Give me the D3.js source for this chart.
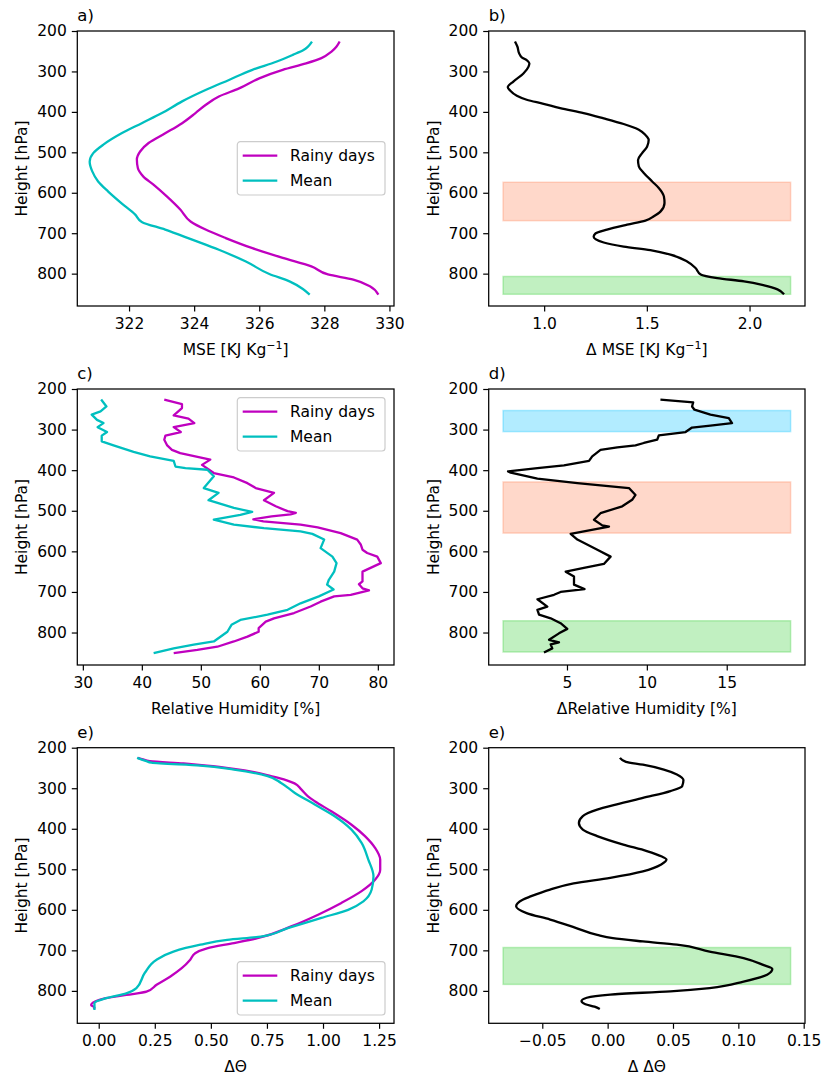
<!DOCTYPE html>
<html><head><meta charset="utf-8">
<script src="https://cdn.jsdelivr.net/npm/d3@7"></script>
<style>body{margin:0;background:#fff}svg{display:block}text{font-family:"DejaVu Sans",sans-serif;fill:#000}</style>
</head><body><svg id="c" width="822" height="1078"></svg>
<script>
// ---------- DATA ----------
const yTicks = [200,300,400,500,600,700,800];

// a) MSE
const mseRainyP = [226,239,251,267,280,296,317,342,362,383,403,428,453,477,498,518,539,560,580,609,642,671,691,712,737,761,782,802,815,831,852];
const mseRainyV = [328.47,328.37,328.22,327.91,327.44,326.72,326.0,325.38,324.76,324.35,324.04,323.63,323.11,322.6,322.34,322.24,322.27,322.44,322.75,323.16,323.58,323.89,324.35,324.97,325.79,326.72,327.6,328.11,328.89,329.4,329.66];
const mseMeanP = [226,239,247,259,276,296,321,346,374,403,428,453,481,502,523,547,572,597,626,654,672,691,716,741,770,801,819,838,852];
const mseMeanV = [327.62,327.49,327.36,327.03,326.52,325.79,325.07,324.35,323.63,323.01,322.39,321.77,321.21,320.9,320.79,320.87,321.05,321.36,321.77,322.19,322.39,323.11,323.94,324.76,325.59,326.31,326.93,327.34,327.55];
const mseTicks = [322,324,326,328,330];

// b) Delta MSE
const dMseP = [226,239,255,265,272,280,288,305,325,339,347,360,370,380,391,403,416,430,444,457,469,486,502,519,535,551,572,588,609,625,646,658,669,679,691,701,709,723,733,742,753,770,786,802,811,819,829,839,851];
const dMseV = [0.858,0.870,0.878,0.891,0.915,0.928,0.924,0.899,0.850,0.823,0.834,0.867,0.915,0.997,1.078,1.192,1.290,1.387,1.461,1.493,1.509,1.501,1.477,1.457,1.461,1.485,1.526,1.558,1.583,1.586,1.567,1.534,1.493,1.404,1.306,1.249,1.241,1.290,1.387,1.517,1.615,1.696,1.737,1.762,1.843,1.973,2.071,2.136,2.168];
const dMseTicks = [1.0,1.5,2.0];
const dMseSpanTop = [574, 807];
const dMseSpanBot = [669, 851];
const dMseSpanCol = ["#ff7f50", "#32cd32"];

// c) Relative humidity
const rhRainyP = [226,237,247,265,273,284,294,306,315,325,339,350,358,374,387,407,418,432,444,456,474,489,501,505,509,514,521,526,534,541,555,571,583,596,604,613,629,650,674,681,691,696,707,711,724,736,752,765,773,789,798,810,822,835,843,851];
const rhRainyV = [43.8,46.8,46.8,45.4,47.9,48.9,45.4,46.6,44.0,43.8,44.3,45.1,46.5,51.6,50.2,52.2,55.6,57.9,59.3,62.4,60.7,62.7,64.7,66.1,65.2,62.0,58.9,60.6,66.9,69.8,73.7,76.5,77.1,77.4,78.2,79.9,80.5,77.4,77.4,76.8,77.4,78.5,75.4,72.6,70.3,68.6,65.8,62.4,61.0,59.8,59.8,57.9,55.6,52.8,49.4,45.4];
const rhMeanP = [226,243,255,263,276,284,294,306,315,329,339,355,366,377,391,395,399,415,444,456,474,493,503,510,522,534,543,551,557,571,592,613,629,650,670,682,694,711,728,744,756,769,781,798,822,830,839,851];
const rhMeanV = [33.1,34.0,33.0,31.5,32.4,33.5,32.5,34.1,33.2,33.2,35.2,38.6,41.4,45.4,45.7,47.4,51.1,52.2,50.5,53.0,51.3,55.6,58.7,56.7,52.2,55.6,60.7,66.9,68.9,70.9,70.3,72.3,73.0,72.6,71.7,71.4,72.5,70.0,66.9,64.7,61.3,56.7,55.2,54.5,52.2,48.8,45.4,42.0];
const rhTicks = [30,40,50,60,70,80];

// d) Delta relative humidity
const dRhP = [226,233,243,251,263,272,284,290,295,306,314,325,333,339,344,350,366,377,388,395,403,406,421,432,444,461,473,489,506,522,536,539,557,571,596,613,631,641,650,662,682,693,700,707,718,736,744,756,765,777,791,802,818,824,829,839,849];
const dRhV = [10.85,12.90,12.83,12.98,13.98,15.13,15.33,13.98,12.83,12.42,10.75,10.65,9.81,9.29,8.15,7.10,6.58,6.38,4.81,3.15,1.31,1.48,3.15,5.65,8.88,9.29,9.08,8.46,7.10,6.69,7.21,7.63,5.23,5.65,6.90,7.73,7.31,6.06,4.92,5.44,5.44,6.10,4.60,4.19,3.15,3.77,3.15,3.25,3.98,4.60,5.02,4.50,3.88,4.50,3.98,4.08,3.56];
const dRhTicks = [5,10,15];
const dRhSpanTop = [253, 429, 771];
const dRhSpanBot = [305, 555, 848];
const dRhSpanCol = ["#00bfff", "#ff7f50", "#32cd32"];

// e) Delta Theta
const thRainyP = [225,229,233,239,244,252,260,270,280,288,303,320,332,357,390,418,447,476,501,526,554,583,612,641,670,682,695,707,723,744,765,785,802,810,822,835,841,845];
const thRainyV = [0.175,0.198,0.228,0.378,0.483,0.603,0.693,0.768,0.835,0.873,0.903,0.933,0.963,1.037,1.127,1.187,1.232,1.255,1.255,1.232,1.172,1.082,0.978,0.858,0.708,0.603,0.483,0.430,0.408,0.370,0.318,0.258,0.213,0.123,0.003,-0.034,-0.019,-0.022];
const thMeanP = [225,233,237,244,254,270,287,311,340,369,402,435,476,517,550,579,600,620,645,666,674,686,703,723,756,793,806,818,830,847];
const thMeanV = [0.171,0.213,0.235,0.453,0.603,0.753,0.813,0.873,0.963,1.052,1.127,1.172,1.202,1.225,1.217,1.180,1.112,0.993,0.843,0.723,0.573,0.453,0.333,0.258,0.205,0.168,0.123,0.033,-0.019,-0.019];
const thTicks = [0,0.25,0.5,0.75,1.0,1.25];

// f) Delta Delta Theta
const dThP = [225,235,242,254,266,280,295,307,324,340,353,369,386,402,418,439,455,468,476,488,505,521,535,550,567,575,591,608,624,645,662,670,678,686,703,719,736,746,760,777,793,801,809,817,825,833,839,845];
const dThV = [0.0094,0.014,0.027,0.043,0.053,0.058,0.057,0.048,0.027,0.007,-0.008,-0.019,-0.022,-0.019,-0.008,0.012,0.030,0.041,0.045,0.041,0.027,0.002,-0.026,-0.044,-0.059,-0.065,-0.070,-0.062,-0.044,-0.024,-0.008,0.004,0.027,0.053,0.078,0.104,0.119,0.126,0.122,0.104,0.078,0.048,0.002,-0.016,-0.020,-0.017,-0.010,-0.006];
const dThTicks = [-0.05,0,0.05,0.10,0.15];
const dThSpanTop = [693];
const dThSpanBot = [784];
const dThSpanCol = ["#32cd32"];

const seriesNames = ["Rainy days", "Mean"];
const seriesColors = ["#bf00bf", "#00bfbf"];

// ---------- LAYOUT ----------
const colX = [[77.3, 394], [488.7, 805]];
const rowY = [[31, 306], [389, 665], [747.7, 1023.3]];
const pDomain = [200, 880];
const FS = 15.5;

const panels = [
  {label:"a)", col:0, row:0, xdom:[320.41,330.14], ticks:mseTicks, fmt:d3.format("d"), smooth:true,
   xlabel:["MSE [KJ Kg","−1","]"],
   lines:[{p:mseRainyP,v:mseRainyV,c:seriesColors[0]},{p:mseMeanP,v:mseMeanV,c:seriesColors[1]}],
   legend:{top:110.7}},
  {label:"b)", col:1, row:0, xdom:[0.73,2.27], ticks:dMseTicks, fmt:d3.format(".1f"), smooth:true,
   xlabel:["Δ MSE [KJ Kg","−1","]"],
   spans:{t:dMseSpanTop,b:dMseSpanBot,c:dMseSpanCol,x:[0.8,2.2]},
   lines:[{p:dMseP,v:dMseV,c:"#000"}]},
  {label:"c)", col:0, row:1, xdom:[29.06,82.74], ticks:rhTicks, fmt:d3.format("d"), smooth:false,
   xlabel:["Relative Humidity [%]"],
   lines:[{p:rhRainyP,v:rhRainyV,c:seriesColors[0]},{p:rhMeanP,v:rhMeanV,c:seriesColors[1]}],
   legend:{top:8.7}},
  {label:"d)", col:1, row:1, xdom:[0.1,19.9], ticks:dRhTicks, fmt:d3.format("d"), smooth:false,
   xlabel:["ΔRelative Humidity [%]"],
   spans:{t:dRhSpanTop,b:dRhSpanBot,c:dRhSpanCol,x:[1,19]},
   lines:[{p:dRhP,v:dRhV,c:"#000"}]},
  {label:"e)", col:0, row:2, xdom:[-0.0955,1.3165], ticks:thTicks, fmt:d3.format(".2f"), smooth:true,
   xlabel:["ΔΘ"],
   lines:[{p:thRainyP,v:thRainyV,c:seriesColors[0]},{p:thMeanP,v:thMeanV,c:seriesColors[1]}],
   legend:{bottom:8.3}},
  {label:"e)", col:1, row:2, xdom:[-0.091,0.151], ticks:dThTicks, fmt:d3.format(".2f"), smooth:true,
   xlabel:["Δ ΔΘ"],
   spans:{t:dThSpanTop,b:dThSpanBot,c:dThSpanCol,x:[-0.08,0.14]},
   lines:[{p:dThP,v:dThV,c:"#000"}]}
];

const svg = d3.select("#c");

panels.forEach(pn => {
  const [x0,x1] = colX[pn.col];
  const [y0,y1] = rowY[pn.row];
  const x = d3.scaleLinear().domain(pn.xdom).range([x0,x1]);
  const y = d3.scaleLinear().domain(pDomain).range([y0,y1]);
  const g = svg.append("g");

  // spans
  if (pn.spans) {
    pn.spans.t.forEach((t,i) => {
      g.append("rect")
        .attr("x", x(pn.spans.x[0])).attr("width", x(pn.spans.x[1]) - x(pn.spans.x[0]))
        .attr("y", y(t)).attr("height", y(pn.spans.b[i]) - y(t))
        .attr("fill", pn.spans.c[i]).attr("fill-opacity", 0.3)
        .attr("stroke", pn.spans.c[i]).attr("stroke-opacity", 0.3).attr("stroke-width", 1.5);
    });
  }

  // lines
  const clipId = "clip" + pn.col + pn.row;
  svg.append("clipPath").attr("id", clipId).append("rect")
    .attr("x", x0).attr("y", y0).attr("width", x1-x0).attr("height", y1-y0);
  const lineGen = d3.line().x(d => x(d[0])).y(d => y(d[1]))
    .curve(pn.smooth ? d3.curveMonotoneY : d3.curveLinear);
  pn.lines.forEach(L => {
    const pts = L.p.map((p,i) => [L.v[i], p]);
    g.append("path").datum(pts)
      .attr("clip-path", `url(#${clipId})`)
      .attr("d", lineGen)
      .attr("fill", "none").attr("stroke", L.c).attr("stroke-width", 2.3)
      .attr("stroke-linejoin", "round").attr("stroke-linecap", "butt");
  });

  // axes
  const ax = g.append("g").attr("transform", `translate(0,${y1})`)
    .call(d3.axisBottom(x).tickValues(pn.ticks).tickFormat(pn.fmt).tickSize(5.5).tickPadding(5));
  const ay = g.append("g").attr("transform", `translate(${x0},0)`)
    .call(d3.axisLeft(y).tickValues(yTicks).tickFormat(d3.format("d")).tickSize(5.5).tickPadding(5));
  [ax, ay].forEach(a => {
    a.select(".domain").remove();
    a.selectAll("line").attr("stroke", "#000").attr("stroke-width", 1.2);
    a.selectAll("text").attr("font-size", FS).attr("font-family", "DejaVu Sans").attr("fill", "#000");
  });
  ax.selectAll("text").attr("dy", "0.71em").attr("y", 11.5);

  // frame
  g.append("rect").attr("x", x0).attr("y", y0).attr("width", x1-x0).attr("height", y1-y0)
    .attr("fill", "none").attr("stroke", "#000").attr("stroke-width", 1.25);

  // panel label
  g.append("text").attr("x", x0).attr("y", y0 - 10).attr("font-size", 16.5).text(pn.label);

  // y label
  g.append("text").attr("transform", `translate(${x0 - 50},${(y0+y1)/2}) rotate(-90)`)
    .attr("text-anchor", "middle").attr("font-size", FS).text("Height [hPa]");

  // x label
  const xl = g.append("text").attr("x", (x0+x1)/2).attr("y", y1 + 49)
    .attr("text-anchor", "middle").attr("font-size", FS);
  xl.append("tspan").text(pn.xlabel[0]);
  if (pn.xlabel.length > 1) {
    xl.append("tspan").attr("dy", -6.5).attr("font-size", 11).text(pn.xlabel[1]);
    xl.append("tspan").attr("dy", 6.5).text(pn.xlabel[2]);
  }

  // legend
  if (pn.legend) {
    const lw = 147.7, lh = 53.3;
    const lx = x1 - 9 - lw;
    const ly = pn.legend.top !== undefined ? y0 + pn.legend.top : y1 - pn.legend.bottom - lh;
    const lg = g.append("g").attr("transform", `translate(${lx},${ly})`);
    lg.append("rect").attr("width", lw).attr("height", lh).attr("rx", 3)
      .attr("fill", "#fff").attr("fill-opacity", 0.8).attr("stroke", "#cccccc").attr("stroke-width", 1.2);
    seriesNames.forEach((nm, i) => {
      const yy = 14 + i * 25;
      lg.append("line").attr("x1", 5.4).attr("x2", 40).attr("y1", yy).attr("y2", yy)
        .attr("stroke", seriesColors[i]).attr("stroke-width", 2.3);
      lg.append("text").attr("x", 52.7).attr("y", yy).attr("dy", "0.36em").attr("font-size", FS).text(nm);
    });
  }
});
</script></body></html>
